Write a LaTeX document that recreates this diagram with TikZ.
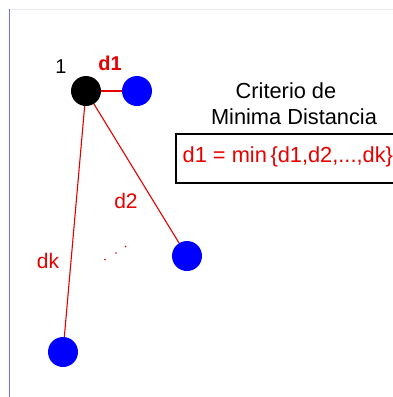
\documentclass[tikz,border=0pt]{standalone}
\usepackage{fontspec}
\setmainfont{Liberation Sans}
\definecolor{pblue}{RGB}{0,0,255}
\definecolor{pred}{RGB}{230,0,0}
\definecolor{frame}{RGB}{110,110,255}
\definecolor{faint}{RGB}{232,232,250}
\begin{document}
\begin{tikzpicture}[x=1pt,y=-1pt,
  pt/.style={circle,inner sep=0pt,minimum size=30pt},
  bluept/.style={pt,fill=pblue},
  blackpt/.style={pt,fill=black},
  link/.style={draw=pred,line width=1.1pt},
  lab/.style={text=pred,font=\fontsize{21}{24}\selectfont,inner sep=0pt},
  txt/.style={font=\fontsize{21.8}{24}\selectfont,inner sep=0pt}]
\useasboundingbox (0,0) rectangle (393,397);
\fill[white] (0,0) rectangle (393,397);
\draw[faint,line width=1pt] (10,9) -- (393,9);
\draw[frame,line width=1.5pt] (9.5,9) -- (9.5,397);
% nodes
\node[blackpt] (c) at (86,91) {};
\node[bluept] (p1) at (137,91) {};
\node[bluept] (p2) at (187,256) {};
\node[bluept] (pk) at (63,352) {};
\draw[link] (c) -- (p1);
\draw[link] (c) -- (p2);
\draw[link] (c) -- (pk);
% labels
\node[txt,font=\fontsize{20}{22}\selectfont] (one) at (61,67) {1};
\node[lab,font=\bfseries\fontsize{20}{22}\selectfont] (ld1) at (110,63) {d1};
\node[lab] (ld2) at (126,201) {d2};
\node[lab] (ldk) at (48,261) {dk};
% dots
\fill[pred] (105,259.5) circle (0.9pt);
\fill[pred] (116,253) circle (0.9pt);
\fill[pred] (125.5,246.5) circle (0.9pt);
% title
\node[txt] (t1) at (286,91) {Criterio de};
\node[txt] (t2) at (294,117) {Minima Distancia};
% box
\draw[black,line width=2.2pt] (397,134) -- (176,134) -- (176,183) -- (397,183);
\node[txt,text=pred,anchor=west] (eq) at (182.5,157) {d1 = min\,\{d1,d2,...,dk\}};
\end{tikzpicture}
\end{document}
